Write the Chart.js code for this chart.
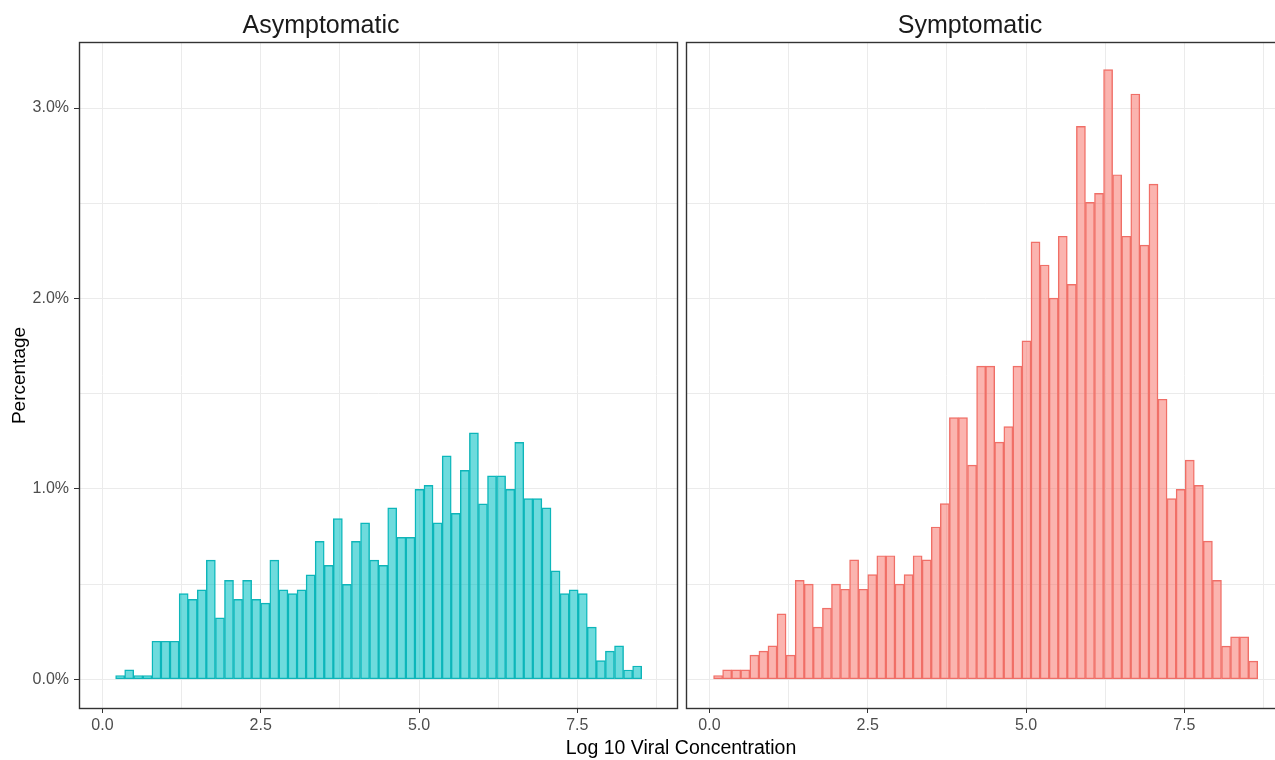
<!DOCTYPE html>
<html>
<head>
<meta charset="utf-8">
<title>Log 10 Viral Concentration</title>
<script src="https://cdn.jsdelivr.net/npm/chart.js@4/dist/chart.umd.min.js"></script>
<style>
  html, body { margin: 0; padding: 0; background: #ffffff; overflow: hidden; }
  #wrap { position: relative; width: 1275px; height: 760px; overflow: hidden; background: #ffffff;
          font-family: 'Liberation Sans', Arial, sans-serif; }
  #wrap canvas { position: absolute; top: 0; }
  .strip { position: absolute; top: 12px; font-size: 25px; line-height: 25px; color: #1a1a1a;
           white-space: nowrap; transform: translateX(-50%); }
  #xTitle { position: absolute; top: 738px; left: 681px; font-size: 19.5px; line-height: 19.5px; color: #000;
            white-space: nowrap; transform: translateX(-50%); }
</style>
</head>
<body>
<div id="wrap">
  <canvas id="asym" width="680" height="760" style="left:0px"></canvas>
  <canvas id="sym" width="620" height="760" style="left:680px"></canvas>
  <div class="strip" style="left:321px">Asymptomatic</div>
  <div class="strip" style="left:970px">Symptomatic</div>
  <div id="xTitle">Log 10 Viral Concentration</div>
</div>
<script>
// Bin centres of the shared histogram bins (log10 viral concentration)
const binCenters = [
  0.137, 0.280, 0.423, 0.566, 0.710, 0.853, 0.996, 1.139, 1.283, 1.426,
  1.569, 1.712, 1.856, 1.999, 2.142, 2.285, 2.429, 2.572, 2.715, 2.858,
  3.002, 3.145, 3.288, 3.431, 3.575, 3.718, 3.861, 4.004, 4.148, 4.291,
  4.434, 4.577, 4.721, 4.864, 5.007, 5.150, 5.294, 5.437, 5.580, 5.723,
  5.867, 6.010, 6.153, 6.296, 6.440, 6.583, 6.726, 6.869, 7.013, 7.156,
  7.299, 7.442, 7.586, 7.729, 7.872, 8.015, 8.159, 8.302, 8.445, 8.588
];

// Percentage of samples per bin
const asymptomaticPct = [
  0.000, 0.020, 0.050, 0.020, 0.020, 0.200, 0.200, 0.200, 0.450, 0.420,
  0.470, 0.626, 0.323, 0.520, 0.420, 0.520, 0.420, 0.400, 0.626, 0.470,
  0.450, 0.470, 0.548, 0.724, 0.598, 0.844, 0.499, 0.724, 0.822, 0.626,
  0.598, 0.900, 0.745, 0.745, 0.998, 1.019, 0.822, 1.174, 0.872, 1.097,
  1.294, 0.921, 1.069, 1.069, 0.998, 1.244, 0.949, 0.949, 0.900, 0.569,
  0.450, 0.470, 0.450, 0.274, 0.098, 0.148, 0.176, 0.049, 0.070, 0.000
];
const symptomaticPct = [
  0.020, 0.050, 0.050, 0.050, 0.127, 0.148, 0.176, 0.344, 0.127, 0.520,
  0.500, 0.274, 0.374, 0.500, 0.473, 0.627, 0.473, 0.550, 0.649, 0.649,
  0.500, 0.550, 0.649, 0.627, 0.800, 0.923, 1.374, 1.374, 1.125, 1.645,
  1.645, 1.246, 1.327, 1.645, 1.777, 2.297, 2.176, 2.002, 2.327, 2.074,
  2.904, 2.505, 2.552, 3.202, 2.650, 2.327, 3.074, 2.280, 2.601, 1.471,
  0.949, 0.998, 1.151, 1.019, 0.726, 0.520, 0.174, 0.223, 0.223, 0.096
];

// Axis ticks
const xMajorTicks = [0, 2.5, 5, 7.5];
const xTickLabels = ['0.0', '2.5', '5.0', '7.5'];
const xMinorTicks = [1.25, 3.75, 6.25, 8.75];
const yMajorTicks = [0, 1, 2, 3];
const yTickLabels = ['0.0%', '1.0%', '2.0%', '3.0%'];
const yMinorTicks = [0.5, 1.5, 2.5];
const xLimits = [-0.37, 9.09];
const yLimits = [-0.156, 3.347];

Chart.defaults.font.family = "'Liberation Sans', Arial, sans-serif";

const GRID = '#ebebeb';
const TICK = '#333333';

// Frame drawn round each panel
const panelFrame = {
  id: 'panelFrame',
  afterDraw(chart) {
    const { ctx, chartArea: a } = chart;
    ctx.save();
    ctx.strokeStyle = '#333333';
    ctx.lineWidth = 1.4;
    ctx.strokeRect(a.left + 0.5, a.top + 0.5, a.right - a.left - 1, a.bottom - a.top - 1);
    ctx.restore();
  }
};

function allTicks(major, minor) {
  return major.concat(minor).sort((p, q) => p - q).map(v => ({ value: v }));
}

function xAxis() {
  return {
    type: 'linear',
    min: xLimits[0],
    max: xLimits[1],
    offset: false,
    afterBuildTicks: ax => { ax.ticks = allTicks(xMajorTicks, xMinorTicks); },
    afterFit: ax => { ax.height = 51; },
    border: { display: false },
    grid: {
      offset: false,
      color: GRID,
      lineWidth: 1,
      drawTicks: true,
      tickLength: 4,
      tickWidth: 1,
      tickColor: c => (c.tick && xMajorTicks.includes(c.tick.value)) ? TICK : 'rgba(0,0,0,0)'
    },
    ticks: {
      autoSkip: false,
      maxRotation: 0,
      padding: 3,
      color: '#4d4d4d',
      font: { size: 16 },
      callback: v => { const i = xMajorTicks.indexOf(v); return i >= 0 ? xTickLabels[i] : ''; }
    }
  };
}

function yAxis(withLabels) {
  return {
    type: 'linear',
    min: yLimits[0],
    max: yLimits[1],
    afterBuildTicks: ax => { ax.ticks = allTicks(yMajorTicks, yMinorTicks); },
    afterFit: ax => { ax.width = withLabels ? 79 : 6; },
    border: { display: false },
    grid: {
      color: GRID,
      lineWidth: 1,
      drawTicks: withLabels,
      tickLength: 5,
      tickWidth: 1,
      tickColor: c => (c.tick && yMajorTicks.includes(c.tick.value)) ? TICK : 'rgba(0,0,0,0)'
    },
    ticks: {
      display: withLabels,
      autoSkip: false,
      padding: 5,
      color: '#4d4d4d',
      font: { size: 16 },
      callback: v => { const i = yMajorTicks.indexOf(v); return i >= 0 ? yTickLabels[i] : ''; }
    },
    title: {
      display: withLabels,
      text: 'Percentage',
      color: '#000000',
      font: { size: 19 },
      padding: { top: 8, bottom: 0 }
    }
  };
}

function panel(canvasId, values, fill, edge, withLabels, padRight) {
  return new Chart(document.getElementById(canvasId), {
    type: 'bar',
    data: {
      datasets: [{
        data: binCenters.map((x, i) => ({ x: x, y: values[i] })),
        backgroundColor: fill,
        borderColor: edge,
        borderWidth: 0.8,
        borderSkipped: false,
        categoryPercentage: 1,
        barPercentage: 1,
        grouped: false
      }]
    },
    options: {
      responsive: false,
      devicePixelRatio: 1,
      animation: false,
      layout: { padding: { top: 42, right: padRight, left: 0, bottom: 0 } },
      plugins: { legend: { display: false }, tooltip: { enabled: false }, title: { display: false } },
      scales: { x: xAxis(), y: yAxis(withLabels) }
    },
    plugins: [panelFrame]
  });
}

panel('asym', asymptomaticPct, 'rgba(0,191,196,0.57)', '#12b3b7', true, 2);
panel('sym', symptomaticPct, 'rgba(248,118,109,0.55)', '#ee6e66', false, 15);
</script>
</body>
</html>
